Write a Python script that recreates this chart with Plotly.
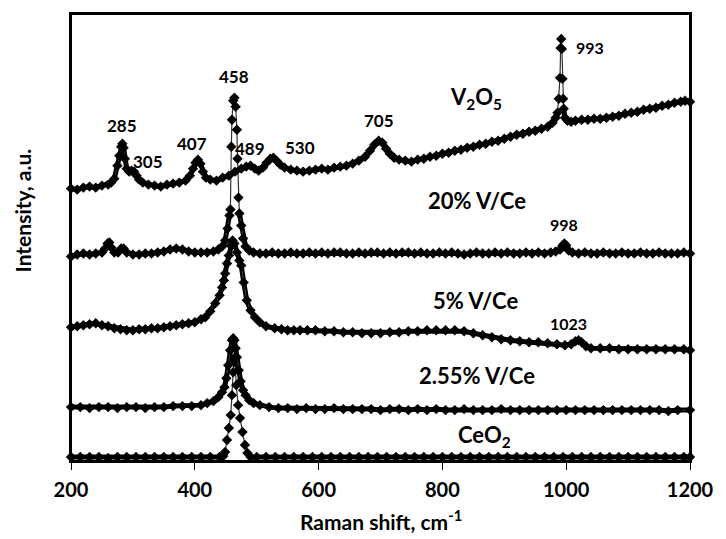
import plotly.graph_objects as go

# ---------------- data (arbitrary intensity units) -------------
v2o5_x = [200, 210, 220, 230, 240, 250, 260, 265, 270, 275, 278, 281, 283, 285, 287, 290, 294, 298,
          302, 306, 310, 316, 325, 335, 345, 355, 365, 375, 385, 392, 397, 401, 405, 409, 413, 418,
          425, 435, 445, 455, 465, 475, 483, 490, 497, 503, 510, 516, 522, 527, 532, 538, 545, 555,
          565, 575, 585, 595, 605, 615, 625, 635, 645, 655, 665, 675, 683, 690, 697, 703, 709, 715,
          722, 730, 740, 750, 760, 770, 780, 790, 800, 810, 820, 830, 840, 850, 860, 870, 880, 890,
          900, 910, 920, 930, 940, 950, 960, 970, 978, 983, 986, 988, 990, 991, 992, 993, 994, 995,
          996, 998, 1002, 1008, 1015, 1025, 1035, 1045, 1055, 1065, 1075, 1085, 1095, 1105, 1115,
          1125, 1135, 1145, 1155, 1165, 1175, 1185, 1192, 1200]
v2o5_y = [273, 272, 274, 275, 274, 276, 277, 279, 283, 296, 306, 315, 318, 314, 303, 293, 290, 291,
          290, 286, 282, 279, 277, 276, 275, 277, 278, 279, 281, 286, 293, 299, 302, 298, 290, 284,
          282, 281, 284, 286, 290, 293, 295, 296, 293, 291, 294, 299, 303, 304, 301, 297, 294, 292,
          291, 290, 291, 292, 293, 292, 294, 295, 296, 298, 301, 305, 311, 317, 321, 319, 313, 308,
          304, 302, 301, 300, 302, 303, 305, 306, 308, 309, 311, 312, 314, 315, 317, 318, 320, 321,
          323, 325, 327, 328, 330, 331, 333, 335, 339, 344, 349, 363, 384, 414, 423, 413, 383, 363,
          353, 344, 341, 340, 341, 342, 342, 343, 343, 344, 345, 346, 348, 349, 350,
          352, 353, 354, 356, 357, 359, 360, 361, 360]

v20_x = [200, 210, 220, 230, 240, 250, 255, 259, 262, 265, 270, 276, 281, 285, 290, 300, 310, 320,
         330, 340, 350, 360, 370, 380, 390, 400, 410, 420, 430, 438, 444, 449, 453, 456, 457.5, 459,
         460, 462, 464, 466, 468, 469, 470.5, 472, 475, 478, 482, 488, 495, 505, 515, 525, 535, 545,
         555, 565, 575, 585, 595, 605, 615, 625, 635, 645, 655, 665, 675, 685, 695, 705, 715, 725,
         735, 745, 755, 765, 775, 785, 795, 805, 815, 825, 835, 845, 855, 865, 875, 885, 895, 905,
         915, 925, 935, 945, 955, 965, 975, 983, 990, 994, 997, 1000, 1004, 1010, 1020, 1030, 1040,
         1050, 1060, 1070, 1080, 1090, 1100, 1110, 1120, 1130, 1140, 1150, 1160, 1170, 1180, 1190,
         1200]
v20_y = [205, 207, 208, 207, 208, 209, 213, 218, 219, 214, 209, 209, 213, 213, 209, 207, 207, 208,
         208, 209, 210, 212, 213, 212, 210, 209, 209, 209, 210, 212, 215, 221, 233, 246, 252, 315,
         342, 361, 364, 355, 332, 303, 264, 248, 236, 223, 215, 211, 209, 208, 208, 209, 208, 208,
         209, 208, 208, 209, 208, 209, 208, 209, 209, 208, 208, 209, 208, 209, 209, 208, 209, 208,
         209, 209, 208, 209, 208, 208, 209, 208, 209, 208, 207, 208, 209, 208, 208, 209, 208, 209,
         208, 208, 209, 208, 209, 208, 209, 210, 212, 216, 218, 216, 211, 209, 208, 209, 208,
         208, 209, 208, 208, 209, 208, 208, 209, 208, 208, 209, 208, 208, 208, 209,
         208]

v5_x = [200, 210, 220, 230, 240, 250, 260, 270, 280, 290, 300, 310, 320, 330, 340, 350, 360, 370,
        380, 390, 400, 410, 417, 425, 433, 440, 444, 447, 449, 452, 455, 458, 461, 464, 468, 472,
        475, 479, 484, 490, 497, 505, 515, 529, 540, 550, 560, 570, 582, 595, 610, 625, 640, 655,
        670, 685, 700, 715, 730, 745, 760, 775, 790, 805, 820, 835, 850, 865, 880, 895, 910, 925,
        940, 955, 970, 985, 998, 1008, 1015, 1020, 1025, 1032, 1040, 1055, 1070, 1085, 1100, 1115,
        1130, 1145, 1160, 1175, 1190, 1200]
v5_y = [134, 135, 136, 137, 138, 136, 135, 133, 132, 131, 131, 132, 132, 133, 133, 134, 135, 136,
        137, 138, 139, 142, 144, 150, 158, 166, 174, 181, 188, 198, 206, 216, 221, 218, 209, 201,
        196, 179, 161, 151, 144, 139, 135, 133, 132, 131, 131, 131, 131, 131, 130, 130, 129, 129,
        128, 128, 128, 129, 129, 130, 130, 131, 131, 131, 131, 130, 128, 126, 124, 122, 121, 120,
        119, 119, 118, 117, 116, 117, 120, 121, 119, 115, 113, 113, 113, 112, 112, 112,
        112, 112, 112, 112, 112, 111]

v255_x = [200, 215, 230, 245, 260, 275, 290, 305, 320, 335, 350, 365, 380, 395, 410, 420, 430, 438,
          444, 448, 451, 454, 457, 460, 462, 464, 466, 468, 471, 474, 478, 482, 488, 495, 505, 520,
          535, 550, 565, 580, 595, 610, 625, 640, 655, 670, 685, 700, 715, 730, 745, 760, 775, 790,
          805, 820, 835, 850, 865, 880, 895, 910, 925, 940, 955, 970, 985, 1000, 1015, 1030, 1045,
          1060, 1075, 1090, 1105, 1120, 1135, 1150, 1165, 1180, 1200]
v255_y = [54, 54, 53, 54, 54, 53, 54, 54, 53, 54, 54, 55, 55, 55, 56, 58, 60, 64,
          69, 74, 83, 96, 111, 121, 123, 121, 113, 104, 91, 80, 71, 66, 61, 58, 56, 54,
          53, 53, 52, 53, 52, 52, 53, 52, 52, 52, 52, 51, 52, 52, 51, 52, 51, 52,
          51, 51, 52, 51, 51, 51, 52, 51, 51, 51, 51, 51, 51, 51, 51, 51, 51,
          51, 51, 51, 51, 51, 51, 51, 50, 51, 51]

ceo2_x = [200, 215, 230, 245, 260, 275, 290, 305, 320, 335, 350, 365, 380, 395, 410, 425, 440, 446,
          449, 452, 455, 458, 460, 462, 463, 465, 467, 470, 473, 477, 481, 485, 490, 500, 515, 530,
          545, 560, 575, 590, 605, 620, 635, 650, 665, 680, 695, 710, 725, 740, 755, 770, 785, 800,
          815, 830, 845, 860, 875, 890, 905, 920, 935, 950, 965, 980, 995, 1010, 1025, 1040, 1055,
          1070, 1085, 1100, 1115, 1130, 1145, 1160, 1175, 1190, 1200]
ceo2_y = [4, 4, 4, 4, 3, 4, 4, 4, 4, 4, 4, 4, 4, 4, 4, 4, 4, 5,
          9, 21, 33, 46, 66, 89, 103, 99, 76, 56, 43, 29, 16, 8, 4, 4, 4, 4,
          4, 4, 4, 4, 4, 4, 4, 4, 4, 4, 4, 4, 4, 4, 4, 4, 4, 4,
          4, 4, 4, 4, 4, 4, 4, 4, 4, 4, 4, 4, 4, 4, 4, 4, 4,
          4, 4, 4, 4, 4, 4, 4, 4, 4, 4]

# (name, x, y, sharp-peak window drawn with thin line only)
series = [
    ("CeO2", ceo2_x, ceo2_y, (449, 485)),
    ("2.55% V/Ce", v255_x, v255_y, None),
    ("5% V/Ce", v5_x, v5_y, None),
    ("20% V/Ce", v20_x, v20_y, (456, 472)),
    ("V2O5", v2o5_x, v2o5_y, (986, 996)),
]

# peak / series labels: (text, x in cm-1, y in a.u., font size)
labels = [
    ("285", 283, 336, 17), ("305", 324, 300, 17), ("407", 396, 318, 17),
    ("458", 464, 385, 17), ("489", 489, 313, 17), ("530", 570, 314, 17),
    ("705", 698, 341, 17), ("993", 1039, 414, 16),
    ("V<sub>2</sub>O<sub>5</sub>", 855, 364, 22),
    ("20% V/Ce", 856, 261, 22), ("998", 996, 237, 16),
    ("5% V/Ce", 854, 161, 22), ("1023", 1004, 138, 16),
    ("2.55% V/Ce", 856, 86, 22), ("CeO<sub>2</sub>", 868, 25, 22),
]

x_ticks = [200, 400, 600, 800, 1000, 1200]

# ---------------- figure ----------------
fig = go.Figure()
for name, xs, ys, sharp in series:
    # heavy band for the noisy, densely sampled parts of the spectrum
    if sharp is None:
        band_y = list(ys)
    else:
        band_y = [None if sharp[0] < x < sharp[1] else y for x, y in zip(xs, ys)]
    fig.add_trace(go.Scatter(
        x=xs, y=band_y, mode="lines", line=dict(color="black", width=5),
        cliponaxis=False, showlegend=False, hoverinfo="skip", connectgaps=False,
    ))
    fig.add_trace(go.Scatter(
        x=xs, y=ys, mode="lines+markers", name=name,
        line=dict(color="#333333", width=1.2),
        marker=dict(symbol="diamond", size=8, color="black"),
        cliponaxis=False, showlegend=False,
    ))

FONT = "Lato, 'Open Sans', sans-serif"
for text, x, y, size in labels:
    fig.add_annotation(x=x, y=y, text=text, showarrow=False,
                       font=dict(family=FONT, size=size, color="black", weight="bold"))

fig.add_annotation(xref="paper", yref="paper", x=0.5, y=-0.132, xanchor="center", yanchor="middle",
                   text="Raman shift, cm<sup>-1</sup>", showarrow=False,
                   font=dict(family=FONT, size=21, color="black", weight="bold"))
fig.add_annotation(xref="paper", yref="paper", x=-0.078, y=0.56, xanchor="center", yanchor="middle",
                   text="Intensity, a.u.", textangle=-90, showarrow=False,
                   font=dict(family=FONT, size=21, color="black", weight="bold"))

# plot frame
fig.add_shape(type="rect", xref="paper", yref="paper", x0=0, y0=0, x1=1, y1=1,
              line=dict(color="black", width=2), layer="above")

fig.update_layout(
    width=726, height=539,
    margin=dict(l=71, r=27, t=13, b=78),
    paper_bgcolor="white", plot_bgcolor="white",
    font=dict(family=FONT, color="black"),
)
fig.update_xaxes(range=[200, 1200], tickvals=x_ticks, ticktext=[str(t) for t in x_ticks],
                 ticks="outside", ticklen=7, tickwidth=1, tickcolor="black",
                 ticklabelstandoff=3,
                 showline=True, linecolor="black", linewidth=2, mirror=True,
                 showgrid=False, zeroline=False,
                 tickfont=dict(family=FONT, size=20, color="black", weight="bold"))
fig.update_yaxes(range=[0, 448], showticklabels=False, ticks="",
                 showline=True, linecolor="black", linewidth=2, mirror=True,
                 showgrid=False, zeroline=False)

fig.write_html("out.html", config={"displayModeBar": False},
               post_script="document.body.style.margin='0';document.body.style.overflow='hidden';")
